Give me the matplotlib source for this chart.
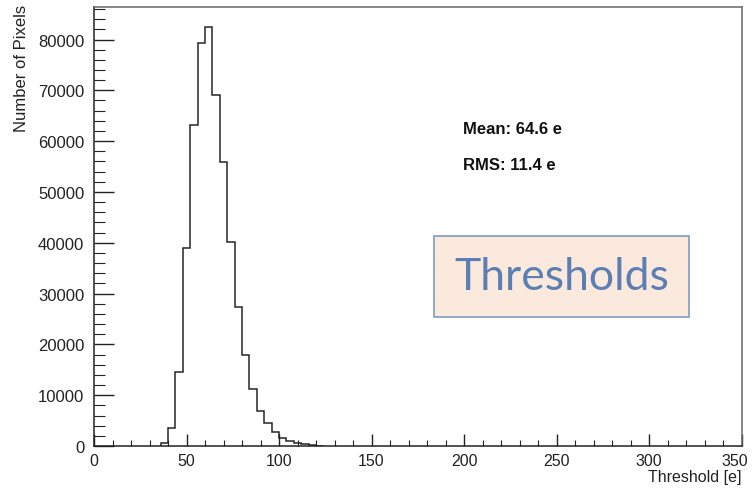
import matplotlib

matplotlib.use("Agg")
import matplotlib.pyplot as plt
import numpy as np
from matplotlib.ticker import FuncFormatter, MultipleLocator

# histogram of pixel thresholds, 4 e bins
bin_edges = np.arange(36, 128, 4)
counts = [500, 3500, 14600, 38900, 63200, 79400, 82400, 69000, 55800, 40200,
          27300, 17900, 11200, 6800, 4500, 2800, 1500, 900, 550, 300, 150, 80]
x_max = 350
mean_label = "Mean: 64.6 e"
rms_label = "RMS: 11.4 e"
x_label = "Threshold [e]"
y_label = "Number of Pixels"
box_label = "Thresholds"

plt.rcParams["font.family"] = ["Liberation Sans", "DejaVu Sans"]

fig = plt.figure(figsize=(7.53, 4.89), dpi=100)
ax = fig.add_axes([94 / 753, 1 - 447 / 489, (741.5 - 94) / 753, (447 - 7.5) / 489])

ax.stairs(counts, bin_edges, baseline=0, color="#262626", lw=1.1)

ax.set_xlim(0, x_max)
ax.set_ylim(0, 86500)
ax.xaxis.set_major_locator(MultipleLocator(50))
ax.xaxis.set_minor_locator(MultipleLocator(10))
ax.yaxis.set_major_locator(MultipleLocator(10000))
ax.yaxis.set_minor_locator(MultipleLocator(2000))
# last x label is drawn separately, nudged so it stays inside the canvas
ax.xaxis.set_major_formatter(FuncFormatter(lambda v, _: "" if v >= x_max else f"{v:g}"))
ax.tick_params(axis="x", which="major", direction="in", length=8.6, width=1,
               labelsize=11.5, pad=5, colors="#222222")
ax.tick_params(axis="x", which="minor", direction="in", length=4.3, width=0.8,
               colors="#222222")
ax.tick_params(axis="y", which="major", direction="in", length=14.5, width=1,
               labelsize=12, pad=7, colors="#222222")
ax.tick_params(axis="y", which="minor", direction="in", length=8, width=0.8,
               colors="#222222")
for side, spine in ax.spines.items():
    spine.set_linewidth(1.1)
    spine.set_color("#222222" if side in ("left", "bottom") else "#666666")

ax.annotate(f"{x_max}", xy=(x_max, 0), xycoords=("data", "axes fraction"),
            xytext=(-5, -5), textcoords="offset points", ha="center", va="top",
            fontsize=11.5, color="#222222")

fig.text(741 / 753, 1 - 478 / 489, x_label, ha="right", va="center",
         fontsize=11.5, color="#222222")
fig.text(22 / 753, 1 - 5 / 489, y_label, ha="center", va="top", rotation=90,
         fontsize=12, color="#222222")

fig.text(463 / 753, 1 - 130 / 489, mean_label, ha="left", va="center",
         fontsize=12, fontweight="bold", color="#111111")
fig.text(463 / 753, 1 - 165 / 489, rms_label, ha="left", va="center",
         fontsize=12, fontweight="bold", color="#111111")

fig.text(561.5 / 753, 1 - 277 / 489, box_label, ha="center", va="center",
         fontsize=32, family=["Lato", "DejaVu Sans"], color="#5b7fb3",
         bbox=dict(boxstyle="square,pad=0.45", fc="#fce9dd", ec="#7f9cc4", lw=1.2))

fig.savefig("out.png", dpi=100)
